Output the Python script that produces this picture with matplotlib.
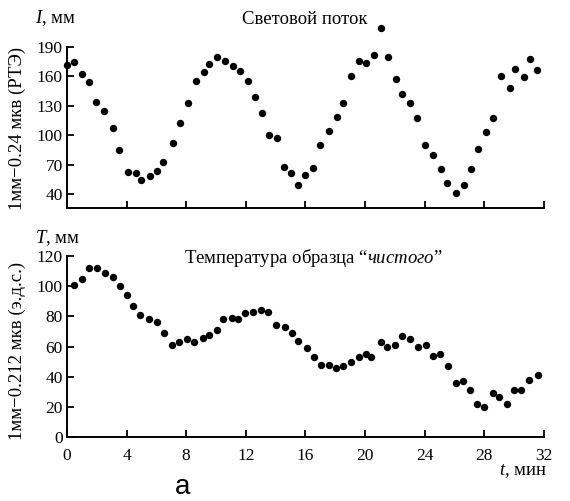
import matplotlib
matplotlib.use("Agg")
import matplotlib.pyplot as plt

plt.rcParams['font.family'] = ['Liberation Serif', 'DejaVu Serif']
plt.rcParams['mathtext.fontset'] = 'custom'
plt.rcParams['mathtext.rm'] = 'Liberation Serif'
plt.rcParams['mathtext.it'] = 'Liberation Serif:italic'

# Light flux (top panel)
t_I = [0.0, 0.47, 0.98, 1.5, 1.97, 2.5, 3.07, 3.49, 4.07, 4.63, 5.0, 5.57, 6.06, 6.46, 7.09, 7.6,
       8.12, 8.68, 9.17, 9.53, 10.07, 10.58, 11.12, 11.61, 12.13, 12.6, 13.09, 13.58, 14.09, 14.56,
       15.01, 15.48, 15.99, 16.53, 16.98, 17.6, 18.1, 18.54, 19.04, 19.62, 20.09, 20.62, 21.07,
       21.54, 22.1, 22.48, 23.02, 23.47, 24.05, 24.58, 25.1, 25.48, 26.09, 26.62, 27.09, 27.6,
       28.1, 28.57, 29.15, 29.71, 30.09, 30.69, 31.05, 31.52]
I_vals = [171, 174, 162, 154, 134, 125, 107, 85, 63, 62, 55, 59, 64, 73, 92, 112, 133, 155, 164,
          172, 179, 175, 170, 165, 155, 139, 123, 100, 97, 68, 62, 49, 60, 67, 90, 104, 119, 133,
          160, 175, 173, 181, 209, 179, 157, 142, 133, 118, 90, 80, 66, 51, 41, 49, 66, 86, 103,
          118, 160, 148, 167, 159, 177, 166]

# Temperature (bottom panel)
t_T = [0.47, 1.0, 1.46, 1.99, 2.57, 3.07, 3.56, 4.05, 4.43, 4.92, 5.52, 6.04, 6.51, 7.05, 7.52,
       8.05, 8.52, 9.1, 9.55, 10.05, 10.49, 11.05, 11.46, 11.97, 12.5, 13.04, 13.51, 14.03, 14.61,
       15.08, 15.5, 16.1, 16.6, 17.03, 17.6, 18.07, 18.54, 19.04, 19.58, 20.05, 20.42, 21.05, 21.5,
       22.01, 22.48, 23.02, 23.56, 24.07, 24.54, 25.03, 25.55, 26.09, 26.58, 27.07, 27.52, 27.99,
       28.57, 29.01, 29.51, 30.02, 30.49, 31.03, 31.59]
T_vals = [101, 105, 112, 112, 109, 106, 100, 94, 87, 81, 78, 76, 69, 61, 63, 65, 63, 66, 68, 71,
          78, 79, 78, 82, 83, 84, 83, 74, 73, 69, 64, 59, 53, 48, 48, 46, 47, 50, 53, 55, 53, 63,
          60, 61, 67, 65, 60, 61, 54, 55, 47, 36, 37, 31, 22, 20, 29, 27, 22, 31, 31, 38, 41]

x_ticks = [0, 4, 8, 12, 16, 20, 24, 28, 32]
I_ticks = [40, 70, 100, 130, 160, 190]
T_ticks = [0, 20, 40, 60, 80, 100, 120]

W, H = 570, 501
fig = plt.figure(figsize=(W / 100, H / 100), dpi=100)

def frac(x0, y_top, x1, y_bot):
    return [x0 / W, 1 - y_bot / H, (x1 - x0) / W, (y_bot - y_top) / H]

ax1 = fig.add_axes(frac(67, 10, 543.7, 208.3))
ax2 = fig.add_axes(frac(67, 230, 543.7, 437.3))

fs_tick = 12.5
fs = 13.5
for ax in (ax1, ax2):
    ax.spines['top'].set_visible(False)
    ax.spines['right'].set_visible(False)
    for s in ('left', 'bottom'):
        ax.spines[s].set_linewidth(1.4)
    ax.set_xlim(0, 32)
    ax.set_xticks(x_ticks)
    ax.tick_params(direction='in', length=5, width=1.3, labelsize=fs_tick, pad=3)
    ax.patch.set_alpha(0)

ax1.plot(t_I, I_vals, 'o', color='black', ms=4.3, clip_on=False)
ax1.set_ylim(25.8, 227.2)
ax1.spines['left'].set_bounds(25.8, 190)
ax1.set_yticks(I_ticks)
ax1.tick_params(axis='x', labelbottom=False)

ax2.plot(t_T, T_vals, 'o', color='black', ms=4.3, clip_on=False)
ax2.set_ylim(0, 137.2)
ax2.spines['left'].set_bounds(0, 120)
ax2.set_yticks(T_ticks)
ax2.tick_params(axis='x', pad=8)

fig.text(35 / W, 1 - 18 / H, r'$I$, мм', fontsize=fs, va='center', ha='left')
fig.text(305 / W, 1 - 19 / H, 'Световой поток', fontsize=fs, va='center', ha='center')
fig.text(35 / W, 1 - 238 / H, r'$T$, мм', fontsize=fs, va='center', ha='left')
fig.text(313 / W, 1 - 258 / H, r'Температура образца “$\mathit{чистого}$”', fontsize=fs,
         va='center', ha='center')
fig.text(17 / W, 1 - 128 / H, '1мм−0.24 мкв (РТЭ)', fontsize=fs, rotation=90,
         va='center', ha='center')
fig.text(17 / W, 1 - 351 / H, '1мм−0.212 мкв (э.д.с.)', fontsize=fs, rotation=90,
         va='center', ha='center')
fig.text(547 / W, 1 - 471 / H, r'$t$, мин', fontsize=fs, va='center', ha='right')
fig.text(183 / W, 1 - 487 / H, 'а', fontsize=20, va='center', ha='center',
         family=['Liberation Sans', 'DejaVu Sans'])

fig.savefig('out.png', dpi=100)
